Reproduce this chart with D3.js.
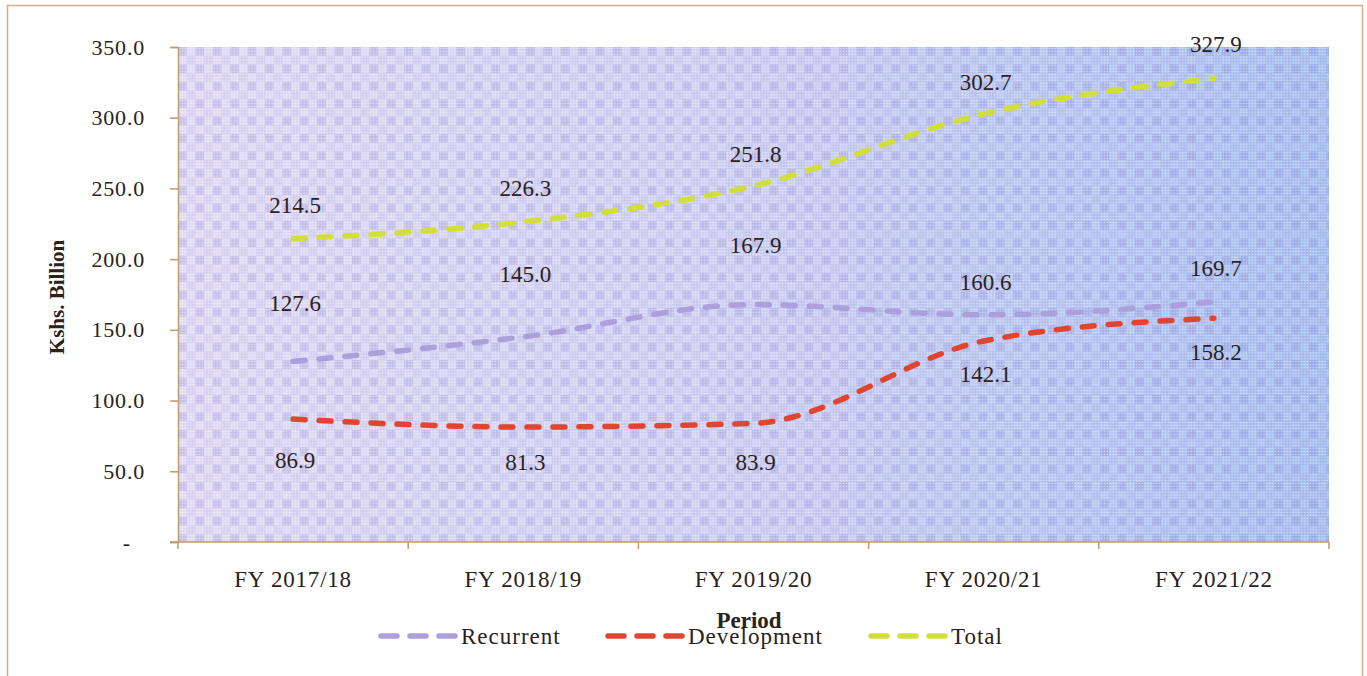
<!DOCTYPE html>
<html><head><meta charset="utf-8">
<script src="https://cdn.jsdelivr.net/npm/d3@7"></script>
<style>
html,body{margin:0;padding:0;background:#fff;}
svg text{font-family:"Liberation Serif","Times New Roman",serif;fill:#2a221c;}
</style></head>
<body>
<svg id="chart" width="1367" height="676"></svg>
<script>
// ---- data ----
const categories = ["FY 2017/18","FY 2018/19","FY 2019/20","FY 2020/21","FY 2021/22"];
const recurrent   = [127.6,145.0,167.9,160.6,169.7];
const development = [86.9,81.3,83.9,142.1,158.2];
const total       = [214.5,226.3,251.8,302.7,327.9];
const yTicks = [0,50,100,150,200,250,300,350];
const seriesNames = ["Recurrent","Development","Total"];

// ---- layout / style (separate from data) ----
const colors = {Recurrent:"#ab9fdc", Development:"#e0452f", Total:"#d2df3a"};
const labelDy = {            // label baseline offset from point, px
  Recurrent:[-51,-55,-52,-25,-26],
  Development:[49,43,47,41,42],
  Total:[-26,-26,-24,-24,-26]
};
const plot = {left:178, right:1329, top:47, bottom:542};

const svg = d3.select("#chart");
const defs = svg.append("defs");

// outer frame
svg.append("rect").attr("x",7.5).attr("y",5.5).attr("width",1355).attr("height",690)
  .attr("fill","#fff").attr("stroke","#cdb08a").attr("stroke-width",1.5);

// background gradient
const grad = defs.append("linearGradient").attr("id","bg").attr("x1","0").attr("x2","1").attr("y1","0").attr("y2","0");
grad.append("stop").attr("offset","0%").attr("stop-color","#e0d9f5");
grad.append("stop").attr("offset","45%").attr("stop-color","#cfcff3");
grad.append("stop").attr("offset","100%").attr("stop-color","#a2bcf1");

// checker + dot pattern
const pat = defs.append("pattern").attr("id","chk").attr("patternUnits","userSpaceOnUse")
  .attr("width",17.4).attr("height",17.4).attr("x",plot.left).attr("y",plot.top);
pat.append("rect").attr("x",0).attr("y",0).attr("width",8.7).attr("height",8.7).attr("fill","#5a50b0").attr("fill-opacity",0.2);
pat.append("rect").attr("x",8.7).attr("y",8.7).attr("width",8.7).attr("height",8.7).attr("fill","#7a70c0").attr("fill-opacity",0.1);
const dots = defs.append("pattern").attr("id","dots").attr("patternUnits","userSpaceOnUse")
  .attr("width",2.9).attr("height",2.9).attr("x",plot.left).attr("y",plot.top);
dots.append("rect").attr("x",0.7).attr("y",0.7).attr("width",1.4).attr("height",1.4).attr("fill","#ffffff").attr("fill-opacity",0.6);

const pw = plot.right-plot.left, ph = plot.bottom-plot.top;
svg.append("rect").attr("x",plot.left).attr("y",plot.top).attr("width",pw).attr("height",ph).attr("fill","url(#bg)");
svg.append("rect").attr("x",plot.left).attr("y",plot.top).attr("width",pw).attr("height",ph).attr("fill","url(#chk)");
svg.append("rect").attr("x",plot.left).attr("y",plot.top).attr("width",pw).attr("height",ph).attr("fill","url(#dots)");

// scales
const x = d3.scaleBand().domain(categories).range([plot.left,plot.right]).padding(0);
const xc = c => x(c) + x.bandwidth()/2;
const y = d3.scaleLinear().domain([0,350]).range([plot.bottom,plot.top]);

// y axis
const axisColor = "#c19a6b";
const yAxis = svg.append("g").attr("transform",`translate(${plot.left},0)`)
  .call(d3.axisLeft(y).tickValues(yTicks).tickSize(8).tickPadding(25)
    .tickFormat(d => d===0 ? "-" : d3.format(".1f")(d)));
yAxis.select(".domain").attr("stroke",axisColor).attr("stroke-width",1.5);
yAxis.selectAll(".tick line").attr("stroke",axisColor).attr("stroke-width",1.5);
yAxis.selectAll(".tick text").attr("font-size",22).attr("fill","#2a221c")
  .attr("font-family","Liberation Serif").attr("letter-spacing","0.8px")
  .attr("dx", d => d===0 ? -14 : 0);

// x axis
const xAxisG = svg.append("g").attr("transform",`translate(0,${plot.bottom})`);
xAxisG.append("line").attr("x1",plot.left-8).attr("x2",plot.right).attr("y1",0).attr("y2",0)
  .attr("stroke",axisColor).attr("stroke-width",1.5);
const bounds = categories.map(c=>x(c)).concat([plot.right]);
xAxisG.selectAll("line.tk").data(bounds).join("line").attr("class","tk")
  .attr("x1",d=>d).attr("x2",d=>d).attr("y1",0).attr("y2",7)
  .attr("stroke",axisColor).attr("stroke-width",1.5);
xAxisG.selectAll("text").data(categories).join("text")
  .attr("x",d=>xc(d)).attr("y",45).attr("text-anchor","middle").attr("font-size",23)
  .attr("letter-spacing","0.8px")
  .text(d=>d);

// axis titles
svg.append("text").attr("transform","translate(64,297) rotate(-90)").attr("text-anchor","middle")
  .attr("font-size",21).attr("font-weight","bold").text("Kshs. Billion");
svg.append("text").attr("x",749).attr("y",628).attr("text-anchor","middle")
  .attr("font-size",23).attr("font-weight","bold").text("Period");

// lines
const seriesData = {Recurrent:recurrent, Development:development, Total:total};
const line = d3.line().x((d,i)=>xc(categories[i])).y(d=>y(d)).curve(d3.curveMonotoneX);
seriesNames.forEach(name=>{
  svg.append("path").datum(seriesData[name]).attr("d",line)
    .attr("fill","none").attr("stroke",colors[name]).attr("stroke-width",5.5)
    .attr("stroke-dasharray","12,14").attr("stroke-linecap","round");
});

// data labels
seriesNames.forEach(name=>{
  svg.append("g").selectAll("text").data(seriesData[name]).join("text")
    .attr("x",(d,i)=>xc(categories[i])+2)
    .attr("y",(d,i)=>y(d)+labelDy[name][i])
    .attr("text-anchor","middle").attr("font-size",23)
    .text(d=>d3.format(".1f")(d));
});

// legend
const legendItems = [
  {name:"Recurrent", x0:378},
  {name:"Development", x0:605},
  {name:"Total", x0:868}
];
const lg = svg.append("g");
legendItems.forEach(it=>{
  lg.append("line").attr("x1",it.x0+3).attr("x2",it.x0+77).attr("y1",636).attr("y2",636)
    .attr("stroke",colors[it.name]).attr("stroke-width",5.5)
    .attr("stroke-dasharray","16,13").attr("stroke-linecap","round");
  lg.append("text").attr("x",it.x0+83).attr("y",644).attr("font-size",23)
    .attr("letter-spacing","1px").text(it.name);
});
</script>
</body></html>
